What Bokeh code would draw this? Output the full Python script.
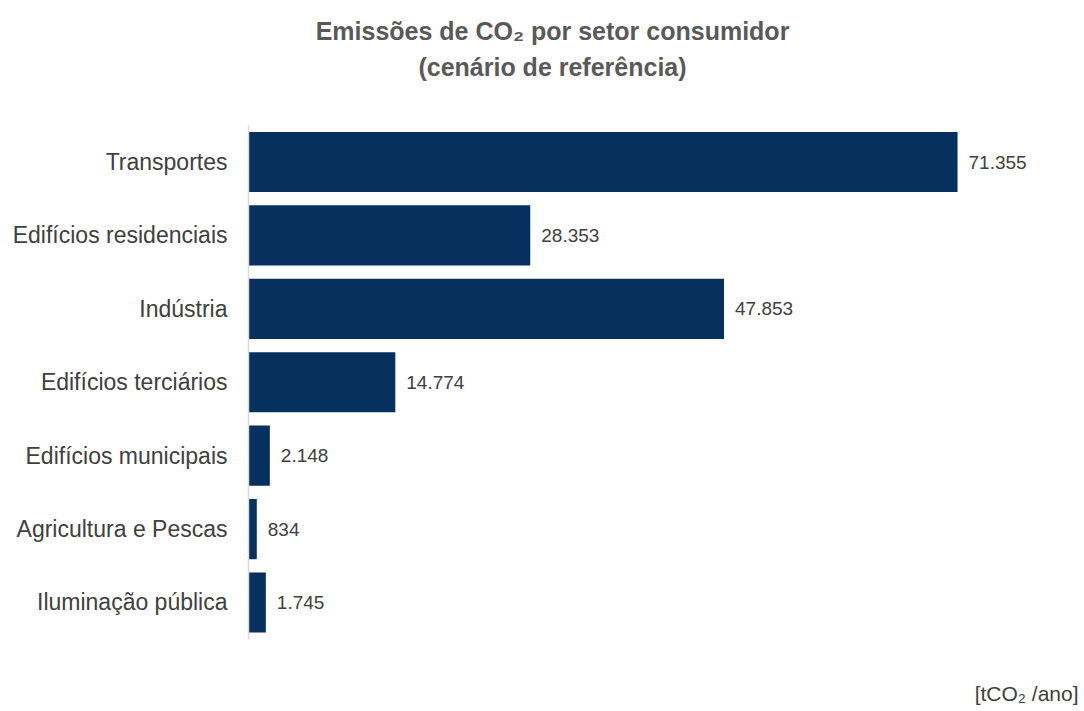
from bokeh.plotting import figure
from bokeh.models import ColumnDataSource, Label, Range1d
from bokeh.embed import file_html
from bokeh.resources import INLINE
from bokeh.core.properties import value

categories = ["Transportes", "Edifícios residenciais", "Indústria", "Edifícios terciários",
              "Edifícios municipais", "Agricultura e Pescas", "Iluminação pública"]
values = [71355, 28353, 47853, 14774, 2148, 834, 1745]

def fmt(v):
    return f"{v:,}".replace(",", ".")

n = len(categories)
pos = [n - 1 - i for i in range(n)]
src = ColumnDataSource(dict(cat=categories, y=pos, val=values, lab=[fmt(v) for v in values],
                            zero=[0] * n))

FONT = "Liberation Sans"
GRAY = "#404040"
W, H = 1084, 711
SHIFT = 11  # empirical correction for screen-unit label baselines

p = figure(width=W, height=H, output_backend="svg", toolbar_location=None,
           x_range=Range1d(-24957, 84130), y_range=Range1d(-1.485, 8.2),
           min_border_left=0, min_border_right=0, min_border_top=0, min_border_bottom=0,
           outline_line_color=None, background_fill_color="white", border_fill_color="white")
p.title.visible = False
p.axis.visible = False
p.grid.visible = False

p.hbar(y="y", right="val", left=0, height=0.82, source=src, color="#06305e", line_color=None)
p.text(x="val", y="y", text="lab", source=src, x_offset=11, text_baseline="middle",
       text_align="left", text_font=value(FONT), text_font_size="19px", text_color=GRAY)
# category labels (axis labels)
p.text(x="zero", y="y", text="cat", source=src, x_offset=-21, text_baseline="middle",
       text_align="right", text_font=value(FONT), text_font_size="23px", text_color=GRAY)
# axis line
p.segment(x0=[0], y0=[-0.5], x1=[0], y1=[n - 0.5], line_color="#d9d9d9", line_width=1.5)

for txt, yb in [("Emissões de CO₂ por setor consumidor", 41), ("(cenário de referência)", 77)]:
    p.add_layout(Label(x=552, y=H - yb + SHIFT, x_units="screen", y_units="screen", text=txt,
                       text_align="center", text_baseline="alphabetic", text_font=FONT,
                       text_font_size="25px", text_font_style="bold", text_color="#595959"))

p.add_layout(Label(x=1078, y=H - 704 + SHIFT, x_units="screen", y_units="screen", text="[tCO₂ /ano]",
                   text_align="right", text_baseline="alphabetic", text_font=FONT,
                   text_font_size="21px", text_color=GRAY))

open("out.html", "w").write(file_html(p, INLINE))
